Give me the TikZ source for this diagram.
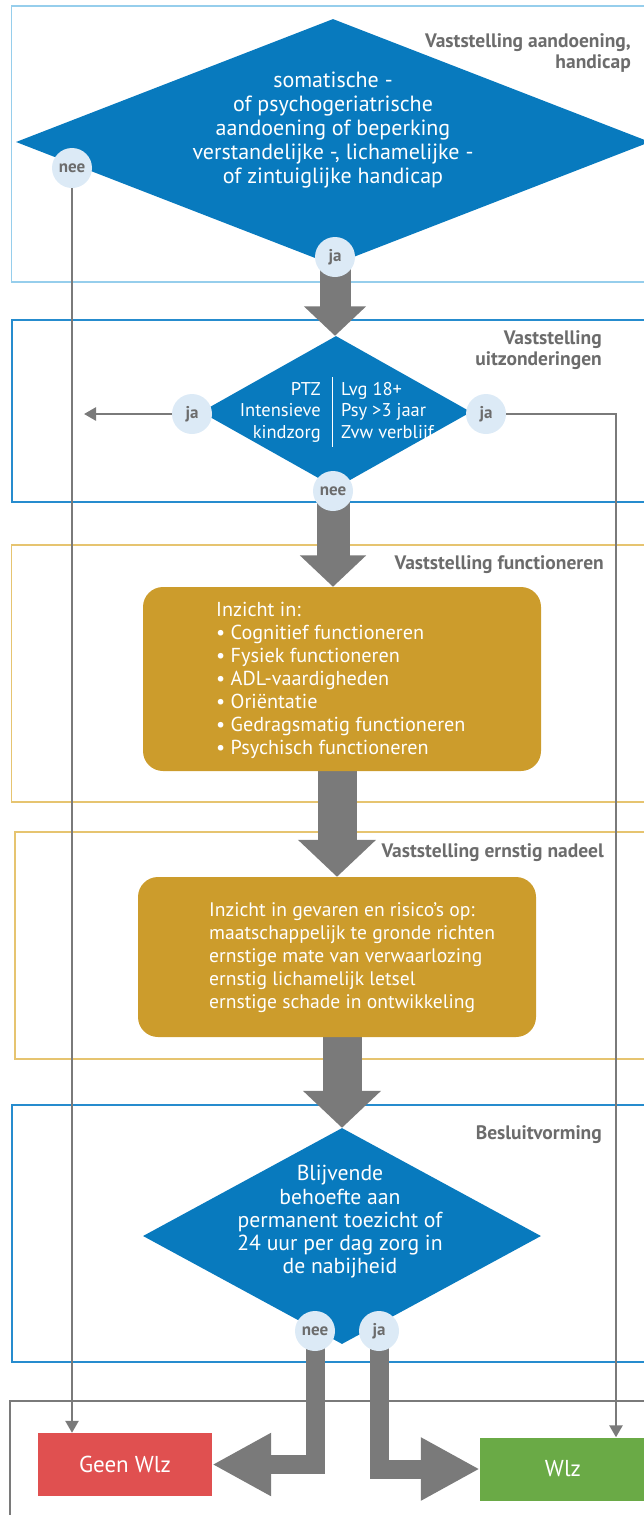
\documentclass[tikz,border=0pt]{standalone}
\usepackage{fontspec}
\setmainfont{PT Sans}
\usepackage{tikz}
\usetikzlibrary{shapes.geometric, arrows.meta, positioning, calc}
\definecolor{wlzblue}{RGB}{8,122,190}
\definecolor{lineblue}{RGB}{38,140,206}
\definecolor{paleblue}{RGB}{150,206,236}
\definecolor{goldline}{RGB}{230,196,112}
\definecolor{goldfill}{RGB}{204,156,44}
\definecolor{dotfill}{RGB}{220,234,246}
\definecolor{arrowgray}{RGB}{122,122,122}
\definecolor{textgray}{RGB}{108,108,108}
\definecolor{geenred}{RGB}{224,80,80}
\definecolor{wlzgreen}{RGB}{106,170,70}
\pgfdeclarelayer{bg}
\pgfsetlayers{bg,main}

\begin{document}
\begin{tikzpicture}[x=1pt, y=-1pt,
  fase/.style={draw=#1, line width=1.3pt},
  keuze/.style={diamond, fill=wlzblue, inner sep=0pt},
  kaart/.style={rectangle, rounded corners=20pt, fill=goldfill, inner sep=0pt},
  dot/.style={circle, fill=dotfill, minimum size=40pt, inner sep=0pt, text=textgray, font=\fontsize{17}{17}\selectfont\bfseries},
  kop/.style={anchor=east, align=right, text=textgray, font=\fontsize{19.5}{21}\selectfont\bfseries, inner sep=0pt},
  wit/.style={text=white, inner sep=0pt},
  uitkomst/.style={rectangle, fill=#1, minimum height=63pt, text=white, font=\fontsize{23}{23}\selectfont},
  dun/.style={draw=arrowgray, line width=2.5pt, -{Triangle[length=12pt, width=13pt]}},
  dik/.style={draw=arrowgray, line width=#1, -{Triangle[length=0pt 0.95, width=0pt 1.95]}},
  hoek/.style={draw=arrowgray, line width=19pt, line join=miter, -{Triangle[length=59pt, width=59pt]}}
]
  \path[use as bounding box] (0,0) rectangle (644,1515);

  % vaststelling aandoening, handicap
  \node[keuze, minimum width=634pt, minimum height=246pt] (vraag1) at (333,142) {};
  \node[wit, align=center, font=\fontsize{22}{24}\selectfont] (vraag1txt) at (333,130)
    {somatische -\\of psychogeriatrische\\aandoening of beperking\\verstandelijke -, lichamelijke -\\of zintuiglijke handicap};
  \node[kop] (kop1) at (631,53) {Vaststelling aandoening,\\handicap};
  \node[dot] (nee1) at (72,168) {nee};
  \node[dot] (ja1) at (335,257) {ja};

  % vaststelling uitzonderingen
  \node[keuze, minimum width=270pt, minimum height=152pt] (vraag2) at (336,412) {};
  \node[wit, anchor=east, align=right, font=\fontsize{18.5}{21.5}\selectfont] (ptz) at (321,412) {PTZ\\Intensieve\\kindzorg};
  \node[wit, anchor=west, align=left, font=\fontsize{18.5}{21.5}\selectfont] (lvg) at (341,412) {Lvg 18+\\Psy >3 jaar\\Zvw verblijf};
  \draw[white, line width=1pt] ($(vraag2)+(-4,-35)$) -- ($(vraag2)+(-4,35)$);
  \node[kop] (kop2) at (602,350) {Vaststelling\\uitzonderingen};
  \node[dot] (ja2l) at (192,414) {ja};
  \node[dot] (ja2r) at (486,414) {ja};
  \node[dot] (nee2) at (333,491) {nee};
  \coordinate (uitzondering) at (84,414);
  \coordinate (knik) at (616,414);

  % vaststelling functioneren
  \node[kaart, minimum width=398pt, minimum height=184pt] (functie) at (342,679) {};
  \node[wit, anchor=west, align=left, font=\fontsize{20.2}{23}\selectfont] (functietxt) at (216,680)
    {Inzicht in:\\• Cognitief functioneren\\• Fysiek functioneren\\• ADL-vaardigheden\\• Oriëntatie\\• Gedragsmatig functioneren\\• Psychisch functioneren};
  \node[kop] (kop3) at (604,565) {Vaststelling functioneren};

  % vaststelling ernstig nadeel
  \node[kaart, minimum width=398pt, minimum height=160pt] (nadeel) at (337,957) {};
  \node[wit, anchor=west, align=left, font=\fontsize{19.6}{23}\selectfont] (nadeeltxt) at (209,958)
    {Inzicht in gevaren en risico’s op:\\maatschappelijk te gronde richten\\ernstige mate van verwaarlozing\\ernstig lichamelijk letsel\\ernstige schade in ontwikkeling};
  \node[kop] (kop4) at (604,853) {Vaststelling ernstig nadeel};

  % besluitvorming
  \node[keuze, minimum width=398pt, minimum height=216pt] (besluit) at (342,1236) {};
  \node[wit, align=center, font=\fontsize{21.7}{23.3}\selectfont] (besluittxt) at (340,1222)
    {Blijvende\\behoefte aan\\permanent toezicht of\\24 uur per dag zorg in\\de nabijheid};
  \node[kop] (kop5) at (602,1135) {Besluitvorming};
  \node[dot] (nee3) at (315,1331) {nee};
  \node[dot] (ja3) at (379,1331) {ja};

  % uitkomst
  \node[uitkomst=geenred, minimum width=174pt] (geen) at (125,1464.5) {Geen Wlz};
  \node[uitkomst=wlzgreen, minimum width=166pt] (wlz) at (563,1469) {Wlz};

  \begin{pgfonlayer}{bg}
    \draw[fase=paleblue] (11.5,6) rectangle (660,282);
    \draw[fase=lineblue] (12,320) rectangle (660,502);
    \draw[fase=goldline] (11.5,545) rectangle (660,802);
    \draw[fase=goldline] (15,832) rectangle (660,1059);
    \draw[fase=lineblue] (12,1105) rectangle (660,1362);
    \draw[draw=arrowgray, line width=2.5pt] (10,1401) rectangle (660,1530);

    \draw[dik=31pt] (ja1.center) -- (ja1.center |- vraag2.north);
    \draw[dik=33pt] (nee2.center) -- (nee2.center |- functie.north);
    \draw[dik=39pt] (functie.south -| nadeel.north) -- (nadeel.north);
    \draw[dik=39pt] (nadeel.south -| besluit.north) -- (besluit.north);
    \draw[hoek] (nee3.center) |- (geen.east);
    \draw[hoek] (ja3.center) |- (wlz.west);

    \draw[dun] (nee1) -- (nee1 |- geen.north);
    \draw[dun] (ja2l) -- (uitzondering);
    \draw[dun] (ja2r) -- (knik) -- (knik |- wlz.north);
  \end{pgfonlayer}
\end{tikzpicture}
\end{document}
